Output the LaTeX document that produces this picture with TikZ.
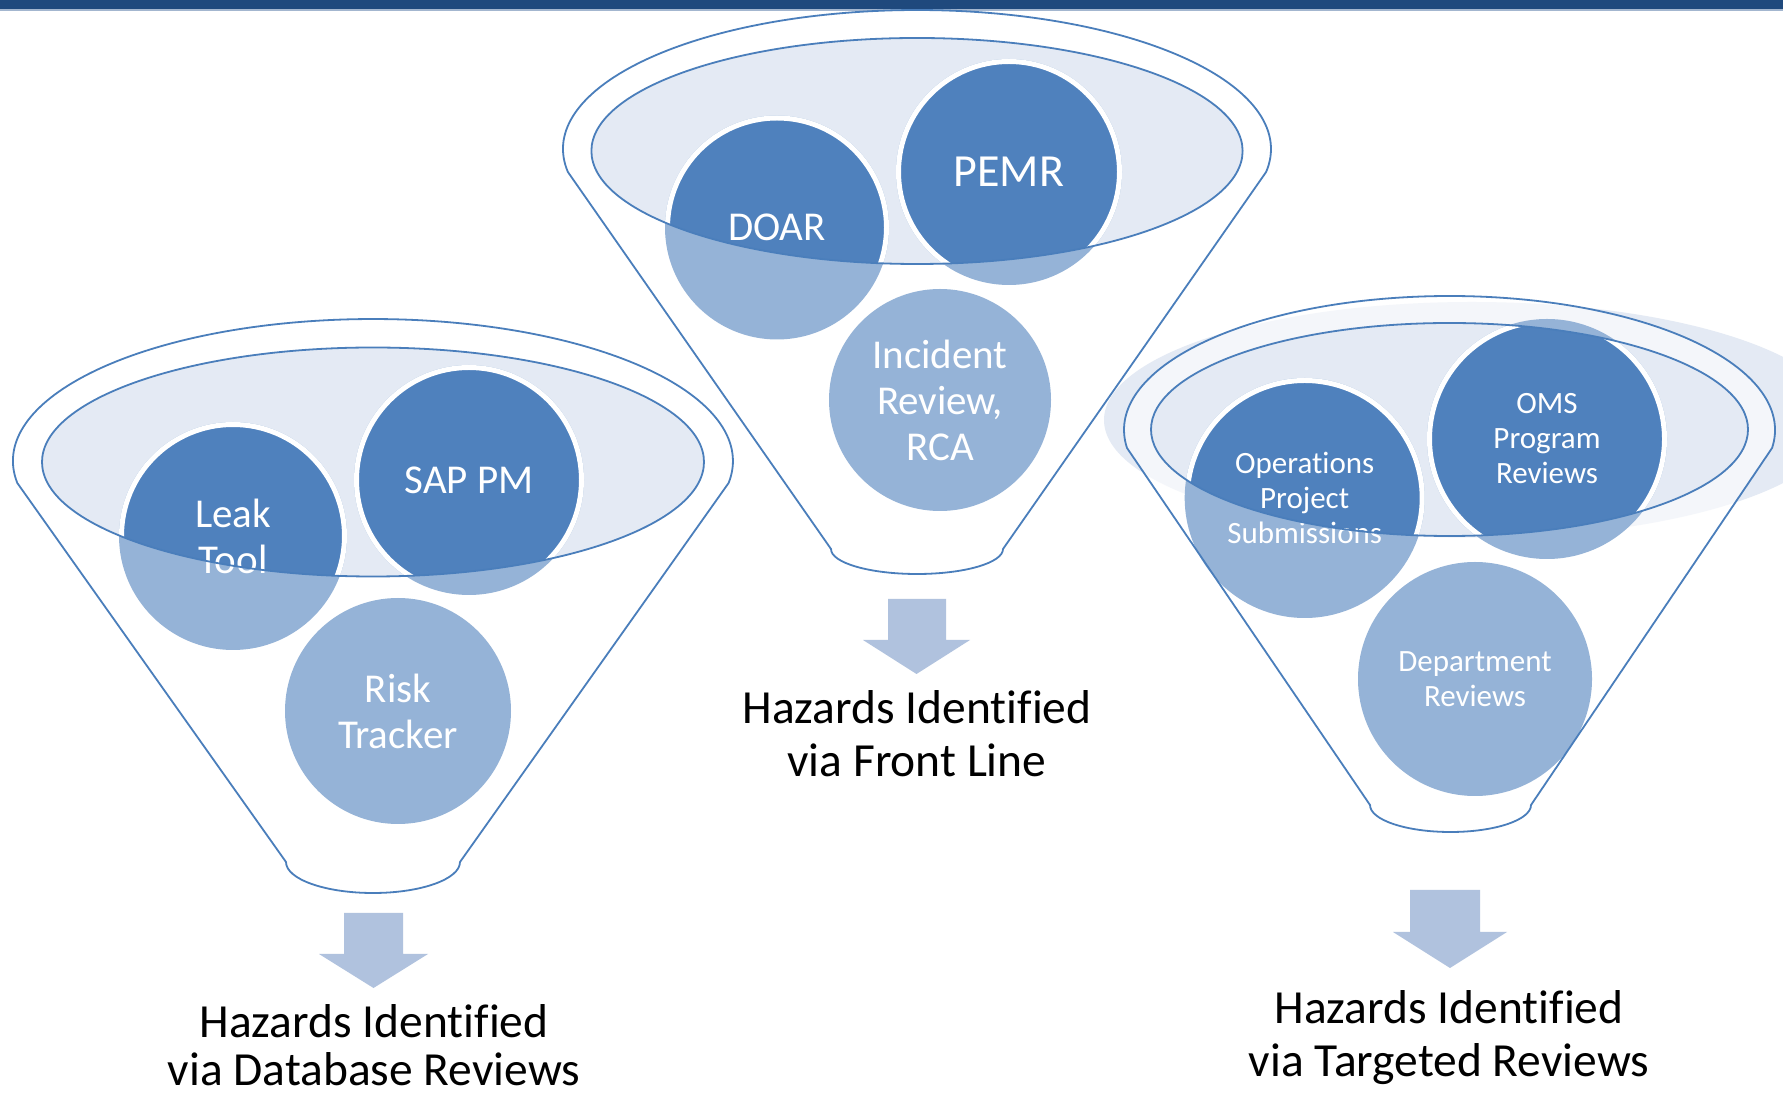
\documentclass[tikz,border=0pt]{standalone}
\usepackage{fontspec}
\setmainfont{Carlito}[Ligatures=NoCommon]
\definecolor{cDark}{HTML}{4F81BD}
\definecolor{cLight}{HTML}{95B3D7}
\definecolor{cEll}{HTML}{E4EAF4}
\definecolor{cLine}{HTML}{4A7EBB}
\definecolor{cArrow}{HTML}{B0C2DE}
\definecolor{cBar}{HTML}{1F497D}
\definecolor{cBarLine}{HTML}{A3B6CF}
\begin{document}
\begin{tikzpicture}[x=1pt,y=1pt,
  funnelbody/.style={fill=white, fill opacity=0.6},
  outl/.style={draw=cLine, line width=1.8pt, line join=round},
  lightcirc/.style={circle, fill=cLight, inner sep=0pt, draw=none},
  darkcirc/.style={fill=cDark, draw=white, line width=5pt},
  ctext/.style={text=white, align=center, font=\fontsize{41}{46}\selectfont, inner sep=0pt},
  ctextS/.style={text=white, align=center, font=\fontsize{31}{35}\selectfont, inner sep=0pt},
  lbl/.style={anchor=base, font=\fontsize{47.5}{52}\selectfont, inner sep=0pt},
  arr/.style={fill=cArrow}
]
\useasboundingbox (0,0) rectangle (1783,1098);
\fill[white] (0,0) rectangle (1783,1098);
% top bar
\fill[cBar] (0,1088.5) rectangle (1783,1098);
\fill[cBarLine] (0,1087) rectangle (1783,1088.5);

% ================= LEFT FUNNEL =================
\path[funnelbody] (17.3,615) arc[start angle=188.9, end angle=-8.9, x radius=360pt, y radius=142pt] -- (460,236) arc[start angle=0, end angle=-180, x radius=87pt, y radius=31pt] -- cycle;
\fill[cEll] (373,636) ellipse [x radius=331pt, y radius=114.5pt];
\node[lightcirc, minimum size=228pt] (leak) at (233,562) {};
\node[lightcirc, minimum size=230pt] (sap) at (469,618) {};
\node[lightcirc, minimum size=226pt] (risk) at (398,387) {};
\begin{scope}
  \clip (373,636) ellipse [x radius=331pt, y radius=114.5pt];
  \filldraw[darkcirc] (leak.center) circle (111.5pt);
  \filldraw[darkcirc] (sap.center) circle (112.5pt);
\end{scope}
\node[ctext] (leakT) at (leak.center) {Leak\\Tool};
\node[ctext] (sapT) at (sap.center) {SAP PM};
\node[ctext] (riskT) at (risk.center) {Risk\\Tracker};
\draw[outl] (373,636) ellipse [x radius=331pt, y radius=114.5pt];
\draw[outl] (17.3,615) arc[start angle=188.9, end angle=-8.9, x radius=360pt, y radius=142pt] -- (460,236) arc[start angle=0, end angle=-180, x radius=87pt, y radius=31pt] -- cycle;

% ================= MIDDLE FUNNEL =================
\path[funnelbody] (567.9,926) arc[start angle=189.52, end angle=-9.52, x radius=354pt, y radius=139pt] -- (1003,549) arc[start angle=0, end angle=-180, x radius=86pt, y radius=25pt] -- cycle;
\fill[cEll] (917,947) ellipse [x radius=325.6pt, y radius=113pt];
\node[lightcirc, minimum size=224pt] (doar) at (777,870.5) {};
\node[lightcirc, minimum size=226pt] (pemr) at (1009,926) {};
\node[lightcirc, minimum size=222pt] (inc) at (940,698) {};
\begin{scope}
  \clip (917,947) ellipse [x radius=325.6pt, y radius=113pt];
  \filldraw[darkcirc] (doar.center) circle (109.5pt);
  \filldraw[darkcirc] (pemr.center) circle (110.5pt);
\end{scope}
\node[ctext] (doarT) at (doar.center) {DOAR};
\node[ctext, font=\fontsize{46}{50}\selectfont] (pemrT) at (pemr.center) {PEMR};
\node[ctext] (incT) at (inc.center) {Incident\\Review,\\RCA};
\draw[outl] (917,947) ellipse [x radius=325.6pt, y radius=113pt];
\draw[outl] (567.9,926) arc[start angle=189.52, end angle=-9.52, x radius=354pt, y radius=139pt] -- (1003,549) arc[start angle=0, end angle=-180, x radius=86pt, y radius=25pt] -- cycle;

% ================= RIGHT FUNNEL =================
\fill[cEll] (1472,678) ellipse [x radius=368pt, y radius=118pt];
\path[funnelbody] (1127,650) arc[start angle=187.72, end angle=-7.72, x radius=325.5pt, y radius=134pt] -- (1531,293) arc[start angle=0, end angle=-180, x radius=80.5pt, y radius=27pt] -- cycle;
\fill[cEll] (1449.5,668.5) ellipse [x radius=298.5pt, y radius=106.5pt];
\node[lightcirc, minimum size=240pt] (ops) at (1304.7,600) {};
\node[lightcirc, minimum size=240pt] (oms) at (1547,659) {};
\node[lightcirc, minimum size=234pt] (dept) at (1475,419) {};
\begin{scope}
  \clip (1449.5,668.5) ellipse [x radius=298.5pt, y radius=106.5pt];
  \filldraw[darkcirc] (ops.center) circle (117.5pt);
  \filldraw[darkcirc] (oms.center) circle (117.5pt);
\end{scope}
\node[ctextS] (opsT) at (ops.center) {Operations\\Project\\Submissions};
\node[ctextS] (omsT) at (oms.center) {OMS\\Program\\Reviews};
\node[ctextS] (deptT) at (dept.center) {Department\\Reviews};
\draw[outl] (1449.5,668.5) ellipse [x radius=298.5pt, y radius=106.5pt];
\draw[outl] (1127,650) arc[start angle=187.72, end angle=-7.72, x radius=325.5pt, y radius=134pt] -- (1531,293) arc[start angle=0, end angle=-180, x radius=80.5pt, y radius=27pt] -- cycle;

% ================= ARROWS =================
\fill[arr] (344,185) -- (403,185) -- (403,144) -- (428,144) -- (373.5,110) -- (319,144) -- (344,144) -- cycle;
\fill[arr] (888,499) -- (946,499) -- (946,458) -- (970,458) -- (916.5,424) -- (863,458) -- (888,458) -- cycle;
\fill[arr] (1410,208) -- (1480,208) -- (1480,166) -- (1507,166) -- (1450,130) -- (1393,166) -- (1410,166) -- cycle;

% ================= LABELS =================
\node[lbl] (l1a) at (374,61) {Hazards Identified};
\node[lbl] (l1b) at (374,13) {via Database Reviews};
\node[lbl] (l2a) at (917,374) {Hazards Identified};
\node[lbl] (l2b) at (917,321) {via Front Line};
\node[lbl] (l3a) at (1449,75) {Hazards Identified};
\node[lbl] (l3b) at (1449,22) {via Targeted Reviews};
\end{tikzpicture}
\end{document}
